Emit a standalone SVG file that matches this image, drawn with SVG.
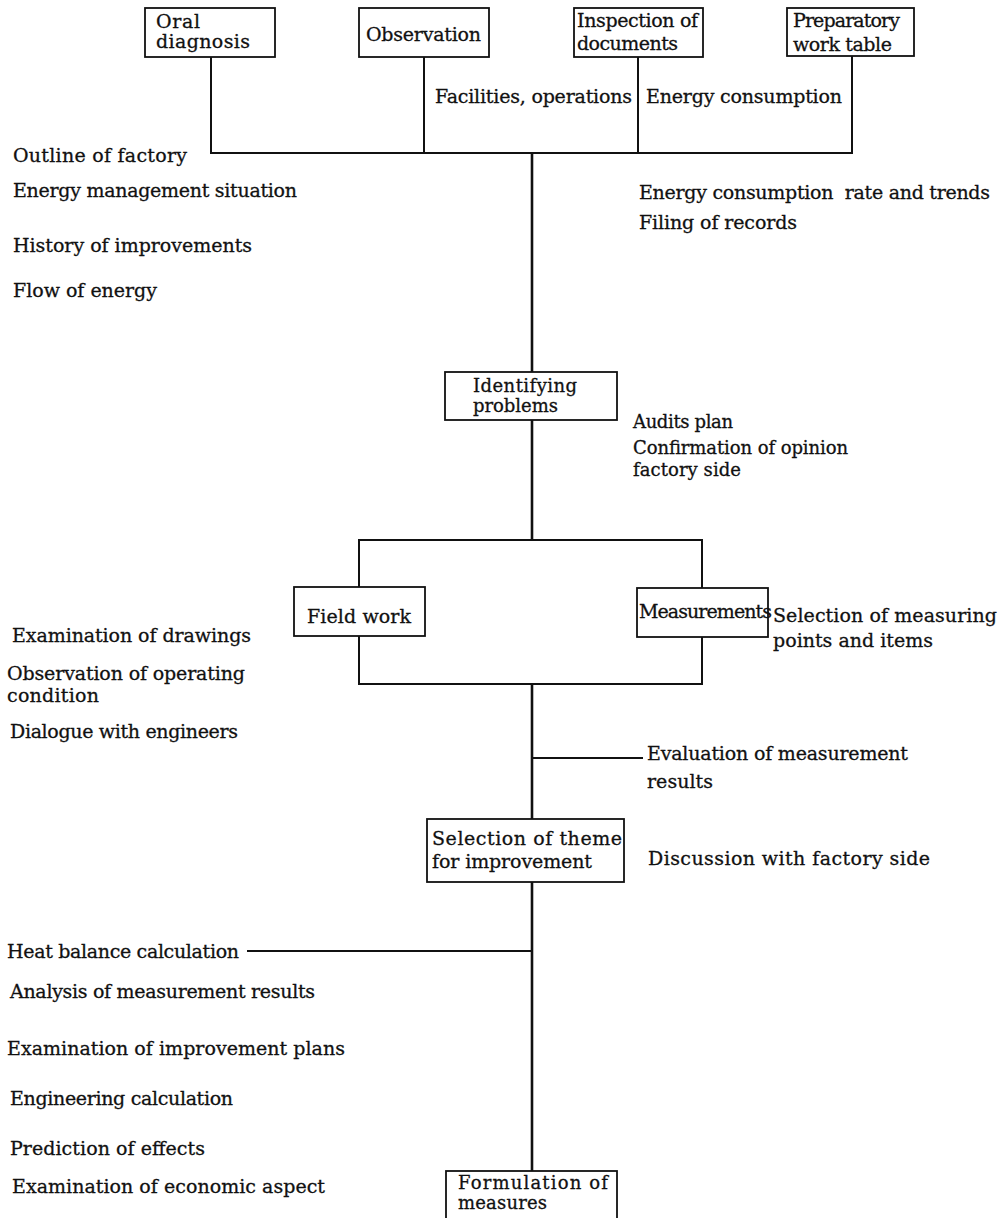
<svg xmlns="http://www.w3.org/2000/svg" width="1002" height="1218" viewBox="0 0 1002 1218">
<style>
.box{fill:#fff;stroke:#111;stroke-width:1.8}
.ln{fill:none;stroke:#111;stroke-width:2}
.main{fill:none;stroke:#111;stroke-width:2.6}
text{font-family:"DejaVu Serif","Liberation Serif",serif;fill:#111;stroke:#111;stroke-width:0.3}
.t{font-size:19px}
.b{font-size:19px}
.s{font-size:18px}
</style>
<rect width="1002" height="1218" fill="#fff"/>
<g id="connectors">
<polyline class="ln" points="211,57 211,153 852,153 852,56"/>
<line class="ln" x1="424" y1="57" x2="424" y2="153"/>
<line class="ln" x1="638" y1="57" x2="638" y2="153"/>
<line class="main" x1="532" y1="153" x2="532" y2="372"/>
<line class="main" x1="532" y1="420" x2="532" y2="540"/>
<polyline class="ln" points="359,587 359,540 702,540 702,588"/>
<polyline class="ln" points="359,636 359,684 702,684 702,637"/>
<line class="main" x1="532" y1="684" x2="532" y2="819"/>
<line class="ln" x1="532" y1="758" x2="643" y2="758"/>
<line class="main" x1="532" y1="882" x2="532" y2="1171"/>
<line class="ln" x1="247" y1="951" x2="532" y2="951"/>
</g>
<g id="oral-diagnosis">
<rect class="box" x="145" y="8" width="130" height="49"/>
<text class="b" x="156" y="28" textLength="44">Oral</text>
<text class="b" x="156" y="48" textLength="94">diagnosis</text>
</g>
<g id="observation">
<rect class="box" x="359" y="8" width="130" height="49"/>
<text class="b" x="366" y="41" textLength="115">Observation</text>
</g>
<g id="inspection-of-documents">
<rect class="box" x="574" y="8" width="129" height="49"/>
<text class="b" x="577" y="27" textLength="121">Inspection of</text>
<text class="b" x="577" y="50" textLength="101">documents</text>
</g>
<g id="preparatory-work-table">
<rect class="box" x="787" y="8" width="127" height="48"/>
<text class="b" x="793" y="27" textLength="107">Preparatory</text>
<text class="b" x="793" y="51" textLength="99">work table</text>
</g>
<g id="identifying-problems">
<rect class="box" x="445" y="372" width="172" height="48"/>
<text class="s" x="473" y="392" textLength="104">Identifying</text>
<text class="s" x="473" y="412" textLength="85">problems</text>
</g>
<g id="field-work">
<rect class="box" x="294" y="587" width="131" height="49"/>
<text class="b" x="307" y="623" textLength="104">Field work</text>
</g>
<g id="measurements">
<rect class="box" x="637" y="588" width="131" height="49"/>
<text class="b" x="639" y="618" textLength="133">Measurements</text>
</g>
<g id="selection-of-theme">
<rect class="box" x="427" y="819" width="197" height="63"/>
<text class="b" x="432" y="845" textLength="190">Selection of theme</text>
<text class="b" x="432" y="868" textLength="160">for improvement</text>
</g>
<g id="formulation-of-measures">
<rect class="box" x="446" y="1171" width="171" height="60"/>
<text class="s" x="458" y="1189" textLength="150">Formulation of</text>
<text class="s" x="458" y="1209" textLength="89">measures</text>
</g>
<g id="annotations">
<text class="t" x="435" y="103" textLength="197">Facilities, operations</text>
<text class="t" x="646" y="103" textLength="196">Energy consumption</text>
<text class="t" x="13" y="162" textLength="174">Outline of factory</text>
<text class="t" x="13" y="197" textLength="284">Energy management situation</text>
<text class="t" x="13" y="252" textLength="239">History of improvements</text>
<text class="t" x="13" y="297" textLength="144">Flow of energy</text>
<text class="t" x="639" y="199" textLength="351" xml:space="preserve">Energy consumption  rate and trends</text>
<text class="t" x="639" y="229" textLength="158">Filing of records</text>
<text class="s" x="633" y="428" textLength="100">Audits plan</text>
<text class="s" x="633" y="454" textLength="215">Confirmation of opinion</text>
<text class="s" x="633" y="476" textLength="108">factory side</text>
<text class="t" x="773" y="622" textLength="224">Selection of measuring</text>
<text class="t" x="773" y="647" textLength="160">points and items</text>
<text class="t" x="12" y="642" textLength="239">Examination of drawings</text>
<text class="t" x="7" y="680" textLength="238">Observation of operating</text>
<text class="t" x="7" y="702" textLength="92">condition</text>
<text class="t" x="10" y="738" textLength="228">Dialogue with engineers</text>
<text class="t" x="647" y="760" textLength="261">Evaluation of measurement</text>
<text class="t" x="647" y="788" textLength="66">results</text>
<text class="t" x="648" y="865" textLength="282">Discussion with factory side</text>
<text class="t" x="7" y="958" textLength="232">Heat balance calculation</text>
<text class="t" x="10" y="998" textLength="305">Analysis of measurement results</text>
<text class="t" x="7" y="1055" textLength="338">Examination of improvement plans</text>
<text class="t" x="10" y="1105" textLength="223">Engineering calculation</text>
<text class="t" x="10" y="1155" textLength="195">Prediction of effects</text>
<text class="t" x="12" y="1193" textLength="313">Examination of economic aspect</text>
</g>
</svg>
